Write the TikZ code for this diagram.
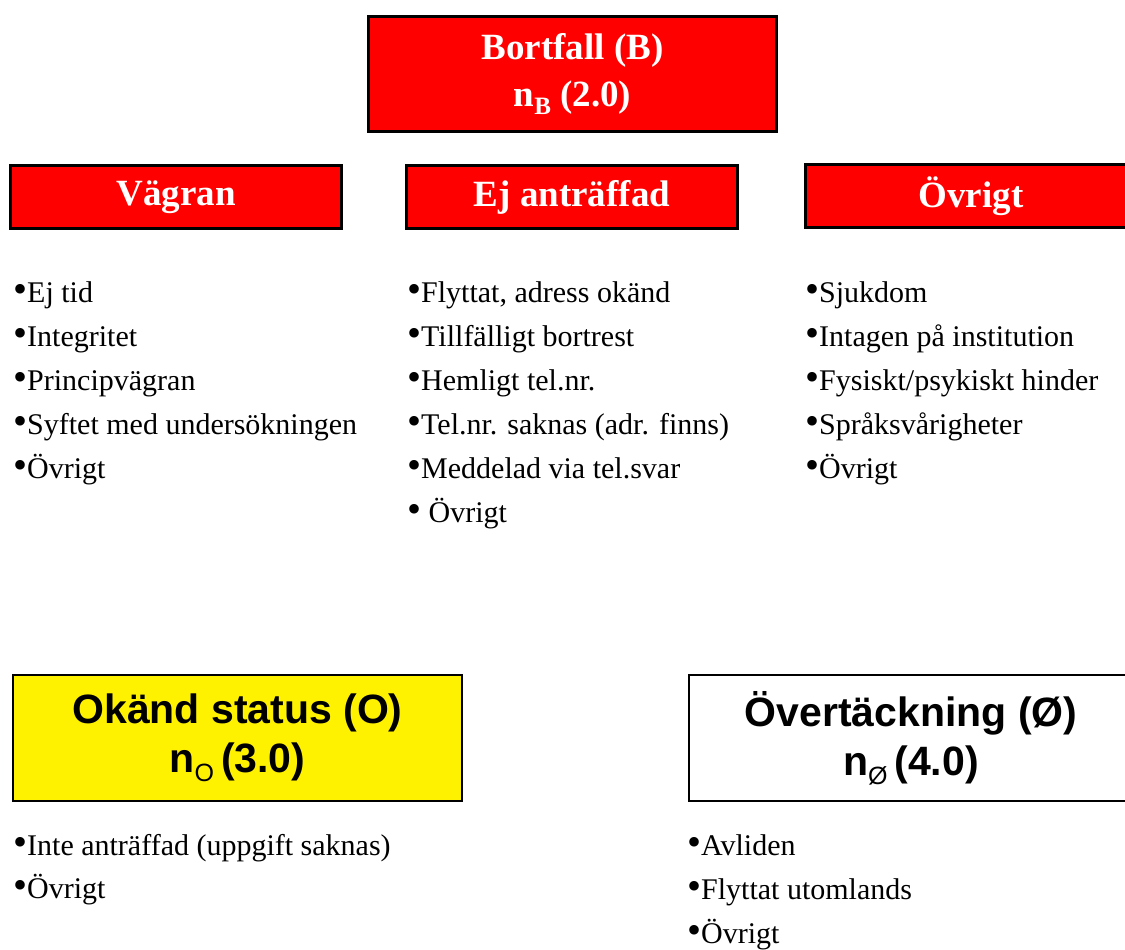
\documentclass[tikz,border=0pt]{standalone}
\usepackage{fontspec}
\setmainfont{Liberation Serif}
\newfontfamily\arialfont{Liberation Sans}
\usetikzlibrary{positioning}

\newcommand{\bul}{{\fontsize{40}{40}\selectfont •}}
\newcommand{\subtxt}[1]{\raisebox{-0.22em}{\fontsize{25}{25}\selectfont #1}}

\begin{document}
\begin{tikzpicture}[x=1pt, y=-1pt,
    rubrik/.style={draw=black, line width=3pt, fill=red, text=white, inner sep=0pt,
      align=center, font=\fontsize{37}{47}\selectfont\bfseries},
    status/.style={draw=black, line width=2.5pt, inner sep=0pt, align=center,
      minimum width=449, minimum height=126, font=\arialfont\fontsize{41}{49}\selectfont\bfseries},
    punkt/.style={anchor=base west, inner sep=0pt, font=\fontsize{30}{34}\selectfont}]

    \useasboundingbox (0,0) rectangle (1125,950);
    \clip (0,0) rectangle (1125,950);

    % --- Bortfall ---
    \node[rubrik, minimum width=408, minimum height=115] (bortfall) at (572.5,74)
      {Bortfall (B)\\n\subtxt{B} (2.0)};

    % --- Orsaker ---
    \node[rubrik, minimum width=331, minimum height=63] (vagran) at (176,197) {Vägran};
    \node[rubrik, minimum width=331, minimum height=63] (ejantr) at (572,197) {Ej anträffad};
    \node[rubrik, minimum width=331, minimum height=63] (ovrigt) at (971,196) {Övrigt};

    % --- Punkter under Vägran ---
    \foreach \t [count=\i] in {Ej tid, Integritet, Principvägran,
                               Syftet med undersökningen, Övrigt} {
      \node[punkt] (veg\i) at (13, 258+44*\i) {\bul\t};
    }

    % --- Punkter under Ej anträffad ---
    \foreach \t [count=\i] in {{Flyttat, adress okänd}, Tillfälligt bortrest, Hemligt tel.nr.,
                               {Tel.nr. saknas (adr. finns)}, Meddelad via tel.svar} {
      \node[punkt] (ej\i) at (407, 258+44*\i) {\bul\t};
    }
    \node[punkt] (ej6) at (407, 522) {\bul\ Övrigt};

    % --- Punkter under Övrigt ---
    \foreach \t [count=\i] in {Sjukdom, Intagen på institution, Fysiskt/psykiskt hinder,
                               Språksvårigheter, Övrigt} {
      \node[punkt] (ovr\i) at (805, 258+44*\i) {\bul\t};
    }

    % --- Okänd status ---
    \node[status, fill=yellow] (okand) at (237.5,738)
      {Okänd status (O)\\n\subtxt{\mdseries O}\,(3.0)};
    \node[punkt] (ok1) at (13, 855) {\bul Inte anträffad (uppgift saknas)};
    \node[punkt] (ok2) at (13, 898) {\bul Övrigt};

    % --- Övertäckning ---
    \node[status, fill=white, minimum width=444] (overt) at (911,738)
      {Övertäckning (Ø)\\n\subtxt{\mdseries Ø}\,(4.0)};
    \foreach \t [count=\i] in {Avliden, Flyttat utomlands, Övrigt} {
      \node[punkt] (ot\i) at (687, 811+44*\i) {\bul\t};
    }

\end{tikzpicture}
\end{document}
